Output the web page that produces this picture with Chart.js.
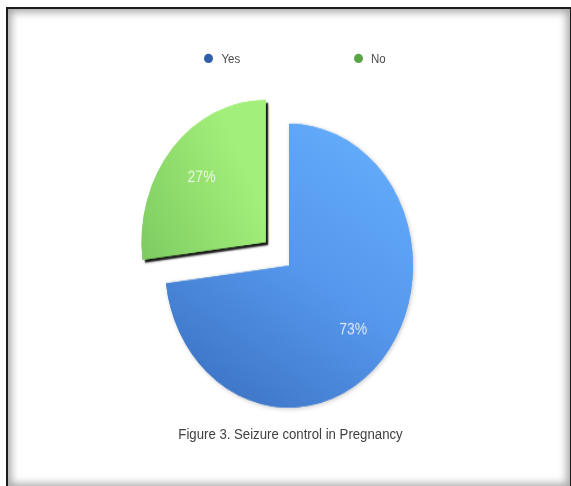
<!DOCTYPE html>
<html>
<head>
<meta charset="utf-8">
<script src="https://cdn.jsdelivr.net/npm/chart.js@4.4.1/dist/chart.umd.min.js"></script>
<style>
  html, body { margin: 0; padding: 0; background: #fff; }
  body { width: 571px; height: 486px; overflow: hidden; position: relative;
         font-family: "Liberation Sans", Arial, sans-serif; }
  #frame { position: absolute; left: 6px; top: 7px; width: 562px; height: 478px;
           border: 2px solid #1c1c1c; background: #fff;
           box-shadow: inset 0 0 9px 3px rgba(0,0,0,0.36); }
  /* the whole figure is drawn slightly taller than wide */
  #stage { position: absolute; left: 0; top: 0; width: 571px; height: 424px;
           transform: scaleY(1.145); transform-origin: 0 0; }
  #c { position: absolute; left: 0; top: 0; }
  #legend { position: absolute; left: 204px; top: 44px; display: flex; }
  #legend .item { width: 149.5px; height: 14px; display: flex; align-items: center;
                  font-size: 11.5px; color: #4a4a4a; }
  #legend .dot { width: 9px; height: 8px; border-radius: 50%; margin-right: 8.5px; }
  #caption { position: absolute; left: 0; width: 581px; top: 371px; text-align: center;
             font-size: 13.2px; line-height: 16px; color: #404040; }
</style>
</head>
<body>
<div id="frame"></div>
<div id="stage">
  <canvas id="c" width="571" height="424"></canvas>
  <div id="legend"></div>
  <div id="caption">Figure 3. Seizure control in Pregnancy</div>
</div>
<script>
// Seizure control in pregnancy (percent of patients)
const categories = ['Yes', 'No'];
const shares = [73, 27];

const palette = {
  legend: ['#2e5fa7', '#5aa446'],
  flat: ['#5598ec', '#94e070']
};

// legend built from the categories
const legendEl = document.getElementById('legend');
categories.forEach((name, i) => {
  const item = document.createElement('div');
  item.className = 'item';
  const dot = document.createElement('span');
  dot.className = 'dot';
  dot.style.background = palette.legend[i];
  const txt = document.createElement('span');
  txt.textContent = name;
  item.append(dot, txt);
  legendEl.append(item);
});

const PIE_RADIUS = 124;
const SLICE_OFFSET = 124;   // arc offset; the arc moves out by a quarter of this

function sliceFill(c) {
  const { chart, dataIndex } = c;
  const a = chart.chartArea;
  if (!a) return palette.flat[dataIndex];
  const cx = (a.left + a.right) / 2, cy = (a.top + a.bottom) / 2, r = PIE_RADIUS;
  const ctx = chart.ctx;
  if (dataIndex === 0) {
    const g = ctx.createLinearGradient(cx + 0.5 * r, cy - 0.95 * r, cx - 0.6 * r, cy + 0.85 * r);
    g.addColorStop(0, '#63abfb');
    g.addColorStop(0.5, '#5597ec');
    g.addColorStop(1, '#3f77c8');
    return g;
  }
  const gx = cx - 23, gy = cy - 20;
  const g = ctx.createLinearGradient(gx - r, gy + 0.1 * r, gx, gy - 0.4 * r);
  g.addColorStop(0, '#7bc95f');
  g.addColorStop(1, '#a3ef7b');
  return g;
}

// dark rim under the raised slice, faint one under the main slice
const sliceShadow = {
  id: 'sliceShadow',
  beforeDatasetsDraw(chart) {
    const arcs = chart.getDatasetMeta(0).data;
    const ctx = chart.ctx;
    ctx.save();
    ctx.shadowColor = 'rgba(0,0,0,0.22)';
    ctx.shadowBlur = 4;
    ctx.shadowOffsetX = 1;
    ctx.shadowOffsetY = 1;
    arcs[0].draw(ctx);
    ctx.restore();
    ctx.save();
    ctx.shadowColor = 'rgba(0,0,0,0.92)';
    ctx.shadowBlur = 1.5;
    ctx.shadowOffsetX = 2.5;
    ctx.shadowOffsetY = 2.5;
    arcs[1].draw(ctx);
    ctx.restore();
  }
};

// percentage written inside each slice
const sliceLabels = {
  id: 'sliceLabels',
  afterDatasetsDraw(chart) {
    const ctx = chart.ctx;
    const arcs = chart.getDatasetMeta(0).data;
    ctx.save();
    ctx.font = '14px "Liberation Sans", Arial, sans-serif';
    ctx.fillStyle = 'rgba(255,255,255,0.8)';
    ctx.textAlign = 'center';
    ctx.textBaseline = 'middle';
    arcs.forEach((arc, i) => {
      const { x, y, startAngle, endAngle, outerRadius } =
        arc.getProps(['x', 'y', 'startAngle', 'endAngle', 'outerRadius'], true);
      const mid = (startAngle + endAngle) / 2;
      const d = (arc.options.offset || 0) / 4 + outerRadius * 0.69;
      ctx.fillText(shares[i] + '%', x + Math.cos(mid) * d, y + Math.sin(mid) * d);
    });
    ctx.restore();
  }
};

new Chart(document.getElementById('c'), {
  type: 'pie',
  data: {
    labels: categories,
    datasets: [{
      data: shares,
      backgroundColor: sliceFill,
      borderWidth: 0,
      offset: [0, SLICE_OFFSET]
    }]
  },
  options: {
    responsive: false,
    animation: false,
    events: [],
    radius: PIE_RADIUS,
    layout: { padding: { left: 7, right: 0, top: 40, bottom: 0 } },
    plugins: {
      legend: { display: false },
      tooltip: { enabled: false }
    }
  },
  plugins: [sliceShadow, sliceLabels]
});
</script>
</body>
</html>
